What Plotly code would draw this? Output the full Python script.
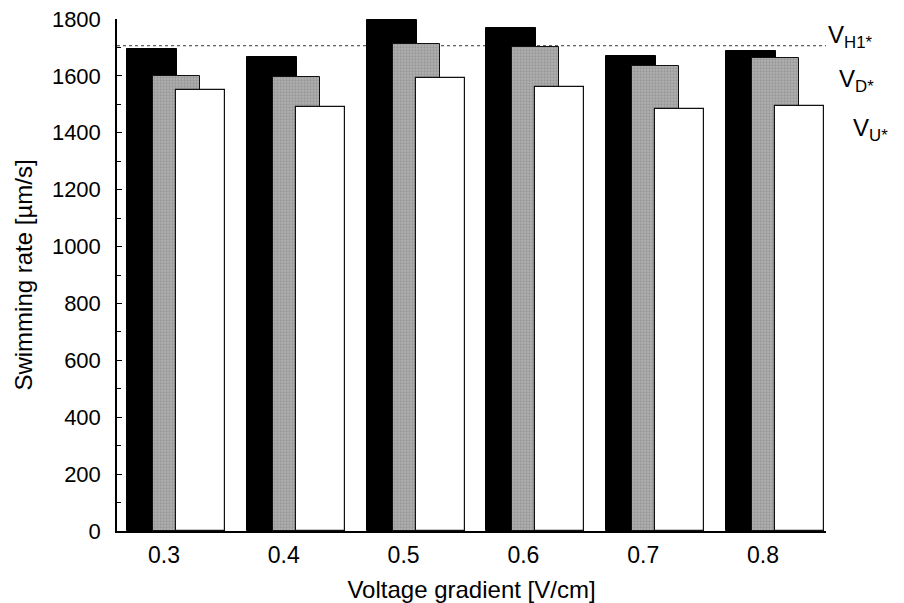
import plotly.graph_objects as go

gradients = [0.3, 0.4, 0.5, 0.6, 0.7, 0.8]
tick_labels = ["0.3", "0.4", "0.5", "0.6", "0.7", "0.8"]
v_h1 = [1694, 1668, 1797, 1767, 1670, 1688]
v_d = [1600, 1595, 1711, 1703, 1635, 1662]
v_u = [1549, 1492, 1594, 1560, 1484, 1494]
ref_level = 1706
y_ticks = [0, 200, 400, 600, 800, 1000, 1200, 1400, 1600, 1800]

FONT = "Liberation Sans, Arial, Helvetica, sans-serif"

fig = go.Figure()
fig.add_trace(go.Bar(x=gradients, y=v_h1, offset=-0.0309, width=0.0417,
                     marker=dict(color="#000000", line=dict(color="#000000", width=1)),
                     name="VH1*", showlegend=False))
fig.add_trace(go.Bar(x=gradients, y=v_d, offset=-0.0092, width=0.0392,
                     marker=dict(color="#a0a0a0", line=dict(color="#111111", width=1),
                                 pattern=dict(shape=".", fgcolor="#7e7e7e", bgcolor="#b0b0b0",
                                              size=3, solidity=0.45)),
                     name="VD*", showlegend=False))
fig.add_trace(go.Bar(x=gradients, y=v_u, offset=0.010, width=0.0409,
                     marker=dict(color="#ffffff", line=dict(color="#111111", width=1.2)),
                     name="VU*", showlegend=False))

fig.add_shape(type="line", xref="paper", yref="y", x0=0, x1=1, y0=ref_level, y1=ref_level,
              line=dict(color="#333333", width=1, dash="dot"), layer="below")

labels = [("V<sub>H1*</sub>", 1738, 1.0), ("V<sub>D*</sub>", 1584, 1.016), ("V<sub>U*</sub>", 1410, 1.035)]
for txt, yv, xp in labels:
    fig.add_annotation(text=txt, xref="paper", yref="y", x=xp, y=yv, xanchor="left",
                       yanchor="middle", showarrow=False,
                       font=dict(family=FONT, size=24, color="#000000"))

fig.update_layout(
    width=904, height=603,
    margin=dict(l=117, r=78, t=19, b=72),
    barmode="overlay",
    plot_bgcolor="#ffffff", paper_bgcolor="#ffffff",
    font=dict(family=FONT, color="#000000"),
    bargap=0,
)
fig.update_xaxes(range=[0.2608, 0.8526], tickvals=gradients, ticktext=tick_labels,
                 showgrid=False, zeroline=False, showline=True, linecolor="#000000", linewidth=1.5,
                 ticks="", tickfont=dict(size=23, family=FONT), ticklabelstandoff=3,
                 automargin=False,
                 title=dict(text="Voltage gradient [V/cm]", font=dict(size=24, family=FONT), standoff=16))
fig.update_yaxes(range=[0, 1800], tickvals=y_ticks, showgrid=False, zeroline=False,
                 showline=True, linecolor="#000000", linewidth=1.5,
                 ticks="inside", ticklen=5, tickcolor="#000000",
                 minor=dict(dtick=100, ticks="inside", ticklen=4, tickcolor="#000000"),
                 tickfont=dict(size=22, family=FONT), ticklabelstandoff=10,
                 automargin=False,
                 title=dict(text="Swimming rate [µm/s]", font=dict(size=24, family=FONT), standoff=12))

fig.write_html("out.html")
